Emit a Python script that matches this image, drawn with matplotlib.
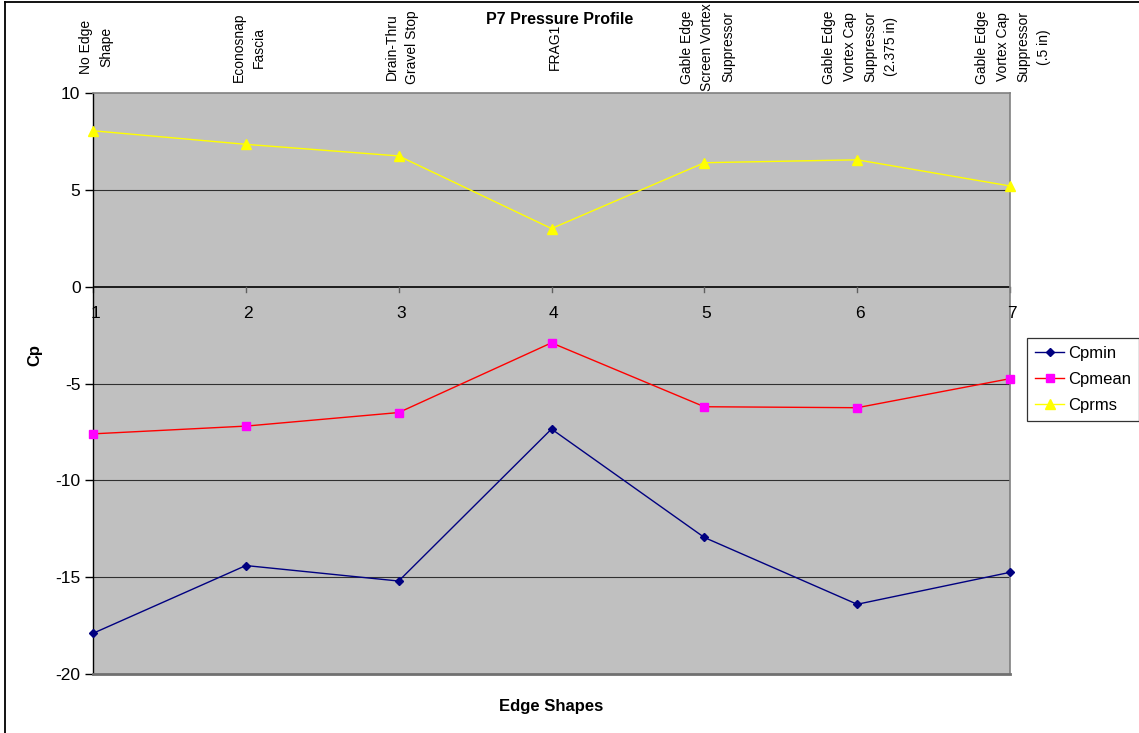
import matplotlib
matplotlib.use("Agg")
import matplotlib.pyplot as plt
from matplotlib.lines import Line2D
import matplotlib.transforms as mtransforms

plt.rcParams["font.family"] = ["Liberation Sans", "DejaVu Sans"]

# data
positions = [1, 2, 3, 4, 5, 6, 7]
shape_names = [
    "No Edge\nShape",
    "Econosnap\nFascia",
    "Drain-Thru\nGravel Stop",
    "FRAG1",
    "Gable Edge\nScreen Vortex\nSuppressor",
    "Gable Edge\nVortex Cap\nSuppressor\n(2.375 in)",
    "Gable Edge\nVortex Cap\nSuppressor\n(.5 in)",
]
cp_min = [-17.9, -14.4, -15.2, -7.35, -12.95, -16.4, -14.75]
cp_mean = [-7.6, -7.2, -6.5, -2.9, -6.2, -6.25, -4.75]
cp_rms = [8.05, 7.35, 6.75, 3.0, 6.4, 6.55, 5.2]
y_ticks = [-20, -15, -10, -5, 0, 5, 10]

W, H = 1139, 733
fig = plt.figure(figsize=(W / 100, H / 100), dpi=100)

# plot area in pixel coordinates
left, right, top, bottom = 93, 1010, 93, 674
ax = fig.add_axes([left / W, 1 - bottom / H, (right - left) / W, (bottom - top) / H])
ax.set_facecolor("#C0C0C0")

ax.set_xlim(1, 7)
ax.set_ylim(-20, 10)

# horizontal gridlines
for yv in y_ticks:
    if yv in (-20, 10, 0):
        continue
    ax.axhline(yv, color="#303030", lw=0.8, zorder=1)
ax.axhline(0, color="black", lw=1.2, zorder=2)

# series
ax.plot(positions, cp_min, color="#000080", lw=1, marker="D", ms=4.5,
        mfc="#000080", mec="#000080", zorder=4, clip_on=False)
ax.plot(positions, cp_mean, color="#FF0000", lw=1, marker="s", ms=6,
        mfc="#FF00FF", mec="#FF00FF", zorder=4, clip_on=False)
ax.plot(positions, cp_rms, color="#FFFF00", lw=1, marker="^", ms=7,
        mfc="#FFFF00", mec="#FFFF00", zorder=4, clip_on=False)

# spines
ax.spines["left"].set_color("black")
ax.spines["left"].set_linewidth(1.0)
for s in ("right", "top"):
    ax.spines[s].set_color("#808080")
    ax.spines[s].set_linewidth(1.2)
ax.spines["bottom"].set_color("#707070")
ax.spines["bottom"].set_linewidth(2.0)

# y axis
ax.set_yticks(y_ticks)
ax.set_yticklabels([str(v) for v in y_ticks], fontsize=12.5)
ax.tick_params(axis="y", direction="out", length=6, width=1, color="black", pad=3)

# x axis ticks sit on the zero line
ax.set_xticks([])
for p in positions:
    ax.plot([p, p], [0, -0.3], color="#606060", lw=1, zorder=2, clip_on=False)
    ax.text(p + 0.015, -1.4, str(p), fontsize=12.5, ha="center", va="center",
            zorder=3)

# category names above the plot
trans_top = mtransforms.blended_transform_factory(ax.transData, fig.transFigure)
for p, name in zip(positions, shape_names):
    ax.text(p + 0.02, 1 - 47 / H, name, rotation=90, fontsize=10,
            ha="center", va="center", multialignment="center",
            linespacing=1.6, transform=trans_top, clip_on=False)

fig.text(560 / W, 1 - 20 / H, "P7 Pressure Profile", fontsize=11.5,
         fontweight="bold", ha="center", va="center")
fig.text(551 / W, 1 - 706 / H, "Edge Shapes", fontsize=12,
         fontweight="bold", ha="center", va="center")
fig.text(35 / W, 1 - 355 / H, "Cp", fontsize=12, fontweight="bold",
         rotation=90, ha="center", va="center")

handles = [
    Line2D([], [], color="#000080", lw=1, marker="D", ms=4.5,
           mfc="#000080", mec="#000080", label="Cpmin"),
    Line2D([], [], color="#FF0000", lw=1, marker="s", ms=6,
           mfc="#FF00FF", mec="#FF00FF", label="Cpmean"),
    Line2D([], [], color="#FFFF00", lw=1, marker="^", ms=7,
           mfc="#FFFF00", mec="#FFFF00", label="Cprms"),
]
leg = fig.legend(handles=handles, loc="upper left",
                 bbox_to_anchor=(1027 / W, 1 - 338 / H),
                 fontsize=12, frameon=True, fancybox=False,
                 edgecolor="black", handlelength=1.7, handletextpad=0.25,
                 borderpad=0.5, labelspacing=0.65, borderaxespad=0)
leg.get_frame().set_linewidth(0.9)

# outer chart border
fig.add_artist(Line2D([5 / W, 5 / W], [0, 1 - 1.5 / H], color="black", lw=1.3,
                      transform=fig.transFigure))
fig.add_artist(Line2D([5 / W, 1], [1 - 1.5 / H, 1 - 1.5 / H], color="black",
                      lw=1.3, transform=fig.transFigure))

fig.savefig("out.png", dpi=100, facecolor="white")
